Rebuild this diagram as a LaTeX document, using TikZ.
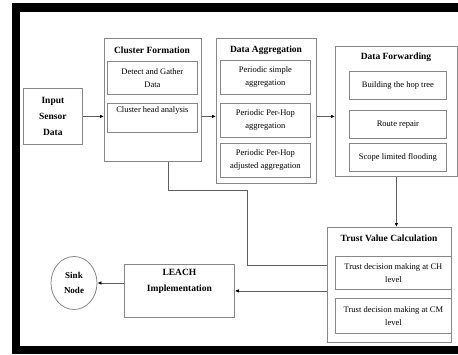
\documentclass[tikz,border=0pt]{standalone}
\usepackage{fontspec}
\setmainfont{Liberation Serif}
\usetikzlibrary{arrows.meta,shapes.geometric}
\definecolor{boxgray}{RGB}{135,135,135}
\definecolor{linegray}{RGB}{95,95,95}
\newcommand\boxtitlefont{\fontsize{9.5}{15}\selectfont\bfseries}
\newcommand\boxtextfont{\fontsize{8.5}{13}\selectfont}

\begin{document}
\begin{tikzpicture}[x=1pt,y=-1pt,
	box/.style={draw=boxgray,line width=0.8,anchor=north west,inner sep=1,align=center},
	inbox/.style={box,font=\boxtextfont},
	title/.style={font=\boxtitlefont,inner sep=1},
	link/.style={draw=linegray,line width=0.8,-{Latex[length=4,width=3.5,color=black]}}]
	\useasboundingbox (0,0) rectangle (458,354);
	% frame
	\fill (12,3) rectangle (458,12);
	\fill (12,3) rectangle (20,354);
	\fill (12,346) rectangle (458,354);
	% input
	\node[box,font=\fontsize{9.5}{16}\selectfont\bfseries,minimum width=59,minimum height=56] (isd) at (23,88) {Input\\Sensor\\Data};
	% cluster formation
	\node[box,minimum width=97,minimum height=123] (cf) at (104,38) {};
	\node[title] (cft) at (152,50) {Cluster Formation};
	\node[inbox,minimum width=90,minimum height=33] (cf1) at (107,61) {Detect and Gather\\Data};
	\node[inbox,minimum width=90,minimum height=29] (cf2) at (107,103) {Cluster head analysis\\\strut};
	% data aggregation
	\node[box,minimum width=100,minimum height=145] (da) at (216,38) {};
	\node[title] (dat) at (266,50) {Data Aggregation};
	\foreach \i/\y/\t in {1/60/{Periodic simple\\aggregation},2/103/{Periodic Per-Hop\\aggregation},3/143/{Periodic Per-Hop\\adjusted aggregation}}
		\node[inbox,minimum width=90,minimum height=34] (da\i) at (220,\y) {\t};
	% data forwarding
	\node[box,minimum width=122,minimum height=130] (df) at (335,46) {};
	\node[title] (dft) at (396,57) {Data Forwarding};
	\foreach \i/\y/\t in {1/71/{Building the hop tree},2/110/{Route repair},3/143/{Scope limited flooding}}
		\node[inbox,minimum width=97,minimum height=28] (df\i) at (349,\y) {\t};
	% trust value
	\node[box,minimum width=124,minimum height=115] (tv) at (327,227) {};
	\node[title] (tvt) at (389,238) {Trust Value Calculation};
	\node[inbox,minimum width=116,minimum height=33] (tv1) at (335,256) {Trust decision making at CH\\level};
	\node[inbox,minimum width=116,minimum height=35] (tv2) at (335,298) {Trust decision making at CM\\level};
	% leach and sink
	\node[box,font=\fontsize{9.5}{16}\selectfont\bfseries,minimum width=110,minimum height=53] (leach) at (124,264) {LEACH\\Implementation\\\strut};
	\node[ellipse,draw=boxgray,line width=0.8,font=\fontsize{9}{15}\selectfont\bfseries,align=center,inner sep=0,minimum width=46,minimum height=53] (sink) at (74,283) {Sink\\Node};
	% links
	\draw[link] (isd.east) -- (isd.east -| cf.west);
	\draw[link] (cf.east |- isd.east) -- (da.west |- isd.east);
	\draw[link] (da.east |- isd.east) -- (df.west |- isd.east);
	\draw[link] (df.south) -- (df.south |- tv.north);
	\coordinate (k1) at (168,190);
	\coordinate (k2) at (247,265);
	\draw[draw=linegray,line width=0.8] (cf.south -| k1) -- (k1) -| (k2) -- (tv.west |- k2);
	\draw[link] (tv.west |- leach.east) -- (leach.east);
	\draw[link] (leach.west |- sink.east) -- (sink.east);
\end{tikzpicture}
\end{document}
